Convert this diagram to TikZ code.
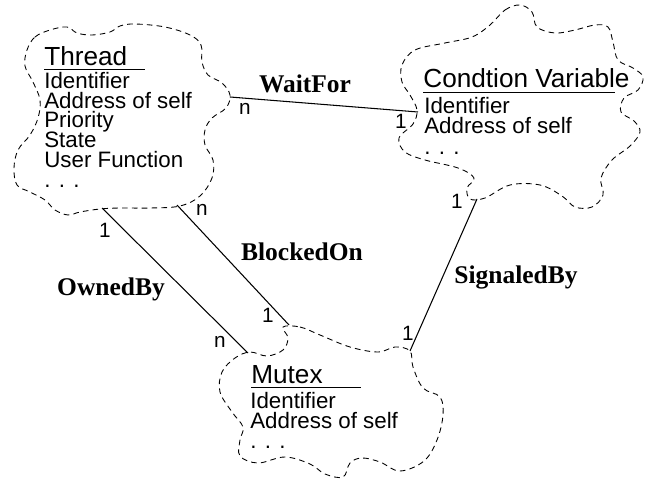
\documentclass[tikz,border=0pt]{standalone}
\usepackage{fontspec}
\setmainfont{Liberation Sans}
\newfontfamily\relfont{Liberation Serif}
\usetikzlibrary{positioning,calc}

\begin{document}
\begin{tikzpicture}[x=0.02cm,y=-0.02cm,
  cloud/.style={draw,dash pattern=on 3.2pt off 2.4pt,line width=.5pt},
  title/.style={anchor=base west,inner sep=0pt,font=\fontsize{14.9}{16}\selectfont},
  attr/.style={anchor=base west,inner sep=0pt,font=\fontsize{12.7}{13}\selectfont},
  rel/.style={anchor=base,inner sep=0pt,font=\relfont\bfseries\fontsize{14.5}{16}\selectfont},
  mult/.style={anchor=base,inner sep=0pt,font=\fontsize{11.8}{13}\selectfont},
  link/.style={line width=.6pt}]
\useasboundingbox (0,0) rectangle (663,483);

% Thread
\draw[cloud] plot[smooth cycle,tension=.6] coordinates {(27,50) (35,37) (50,30) (67,27) (77,33) (92,35) (110,32) (120,26) (135,24) (165,27) (190,35) (201,45) (202,62) (208,75) (222,83) (230,95) (226,108) (212,118) (205,130) (205,145) (213,160) (212,178) (200,196) (180,206) (150,208) (120,208) (100,209) (80,212) (68,215) (55,210) (45,200) (30,192) (17,185) (14,168) (18,150) (30,135) (38,118) (40,100) (33,82) (25,66)};
\node[title] (thr) at (44,65.5) {Thread};
\draw ([yshift=-2.2pt]thr.base west) -- ++(101,0);
\foreach \t [count=\i] in {Identifier,Address of self,Priority,State,User Function,. . .}
  \node[attr] (thr-\i) at (44,{68.5+19.8*\i}) {\t};

% Condition variable
\draw[cloud] plot[smooth cycle,tension=.6] coordinates {(490,25) (505,10) (520,5) (532,12) (537,27) (555,33) (575,30) (595,25) (608,27) (613,42) (618,60) (633,68) (643,77) (638,90) (624,98) (621,112) (634,121) (640,132) (630,146) (612,160) (601,178) (603,195) (592,207) (575,207) (562,196) (540,185) (510,185) (485,198) (470,199) (467,188) (474,178) (458,168) (425,160) (405,152) (399,138) (413,124) (417,110) (410,95) (402,82) (402,65) (415,50) (445,43) (472,37)};
\node[title] (cv) at (423,88) {Condtion Variable};
\draw ([yshift=-2.3pt]cv.base west) -- ++(192,0);
\foreach \t [count=\i] in {Identifier,Address of self,. . .}
  \node[attr] (cv-\i) at (424,{92.5+20.5*\i}) {\t};

% Mutex
\draw[cloud] plot[smooth cycle,tension=.6] coordinates {(283,327) (300,327) (320,335) (350,347) (378,352) (395,347) (410,351) (413,367) (423,388) (440,397) (443,415) (437,440) (424,461) (400,471) (380,462) (362,458) (350,463) (343,477) (325,474) (310,464) (285,457) (258,463) (240,456) (240,440) (243,427) (232,412) (220,392) (222,372) (235,358) (250,352) (267,356) (283,350) (288,338)};
\node[title] (mtx) at (251,383) {Mutex};
\draw ([yshift=-2.3pt]mtx.base west) -- ++(110,0);
\foreach \t [count=\i] in {Identifier,Address of self,. . .}
  \node[attr] (mtx-\i) at (250,{388+20*\i}) {\t};

% connection points
\coordinate (thrR) at (230,97);
\coordinate (thrB1) at (102,208);
\coordinate (thrB2) at (177,205);
\coordinate (cvL) at (418,112);
\coordinate (cvB) at (477,199);
\coordinate (mtxT1) at (248,353);
\coordinate (mtxT2) at (289,325);
\coordinate (mtxR) at (410,351);

\draw[link] (thrR) -- (cvL);
\draw[link] (thrB1) -- (mtxT1);
\draw[link] (thrB2) -- (mtxT2);
\draw[link] (mtxR) -- (cvB);

\node[rel] (waitfor) at (305,93) {WaitFor};
\node[rel] (ownedby) at (111,295) {OwnedBy};
\node[rel] (blockedon) at (302,260) {BlockedOn};
\node[rel] (signaledby) at (516,283) {SignaledBy};

\node[mult] (m1) at (245,115) {n};
\node[mult] (m2) at (401,129) {1};
\node[mult] (m3) at (105,237) {1};
\node[mult] (m4) at (220,347) {n};
\node[mult] (m5) at (202,215) {n};
\node[mult] (m6) at (268,322) {1};
\node[mult] (m7) at (408,340) {1};
\node[mult] (m8) at (457,209) {1};
\end{tikzpicture}
\end{document}
